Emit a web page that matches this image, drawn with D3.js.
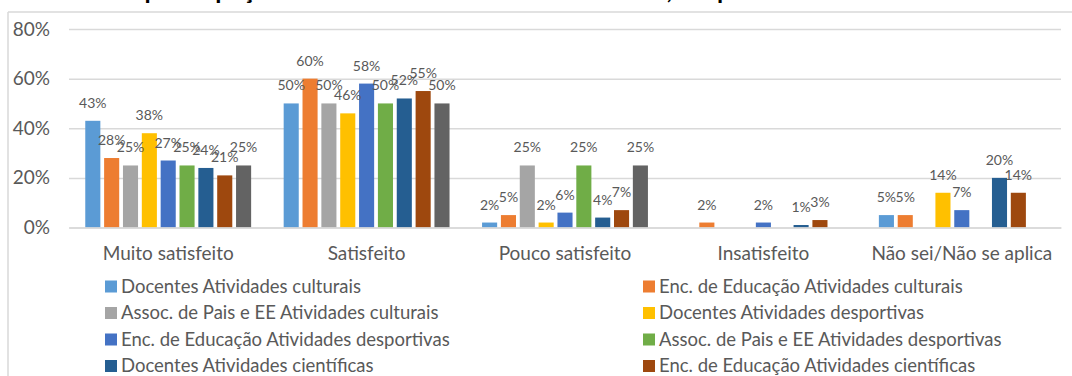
<!DOCTYPE html>
<html>
<head>
<meta charset="utf-8">
<script src="https://cdn.jsdelivr.net/npm/d3@7"></script>
<style>
  html, body { margin: 0; padding: 0; background: #fff; }
  svg { display: block; font-family: Lato, "Open Sans", sans-serif; }
</style>
</head>
<body>
<svg id="chart" width="1072" height="376"></svg>
<script>
// Response categories (x axis)
const categories = ["Muito satisfeito", "Satisfeito", "Pouco satisfeito", "Insatisfeito", "Não sei/Não se aplica"];

// Series names (respondent group + activity type)
const seriesNames = [
  "Docentes Atividades culturais",
  "Enc. de Educação Atividades culturais",
  "Assoc. de Pais e EE Atividades culturais",
  "Docentes Atividades desportivas",
  "Enc. de Educação Atividades desportivas",
  "Assoc. de Pais e EE Atividades desportivas",
  "Docentes Atividades científicas",
  "Enc. de Educação Atividades científicas",
  "Assoc. de Pais e EE Atividades científicas"
];

// Percentages per series, in category order (null = no answer, not drawn)
const docentesCulturais     = [43, 50, 2, null, 5];
const encCulturais          = [28, 60, 5, 2, 5];
const assocCulturais        = [25, 50, 25, null, null];
const docentesDesportivas   = [38, 46, 2, null, 14];
const encDesportivas        = [27, 58, 6, 2, 7];
const assocDesportivas      = [25, 50, 25, null, null];
const docentesCientificas   = [24, 52, 4, 1, 20];
const encCientificas        = [21, 55, 7, 3, 14];
const assocCientificas      = [25, 50, 25, null, null];

const seriesValues = [
  docentesCulturais, encCulturais, assocCulturais,
  docentesDesportivas, encDesportivas, assocDesportivas,
  docentesCientificas, encCientificas, assocCientificas
];

const seriesColors = ["#5B9BD5", "#ED7D31", "#A5A5A5", "#FFC000", "#4472C4", "#70AD47", "#255E91", "#9E480E", "#636363"];

// Y axis ticks
const yTicks = [0, 20, 40, 60, 80];

const chartTitle = "participação dos alunos em atividades culturais, desportivas e científicas";

const svg = d3.select("#chart");
const textColor = "#595959";
const gridColor = "#d9d9d9";

// Chart area frame (top and left edges visible)
svg.append("line").attr("x1", 8).attr("x2", 1072).attr("y1", 12).attr("y2", 12)
  .attr("stroke", gridColor).attr("stroke-width", 1.5);
svg.append("line").attr("x1", 8).attr("x2", 8).attr("y1", 12).attr("y2", 376)
  .attr("stroke", gridColor).attr("stroke-width", 1.5);

// Title (last line, sitting at the top edge)
svg.append("text")
  .attr("x", 545).attr("y", -1)
  .attr("text-anchor", "middle")
  .attr("font-weight", "bold")
  .attr("font-size", 25)
  .attr("fill", "#000")
  .text(chartTitle);

const plotLeft = 69, plotRight = 1061, plotTop = 29, plotBottom = 227.5;

const y = d3.scaleLinear().domain([0, 80]).range([plotBottom, plotTop]);

const x0 = d3.scaleBand().domain(categories).range([plotLeft, plotRight])
  .paddingInner(0.145).paddingOuter(0.0725);

const x1 = d3.scaleBand().domain(d3.range(seriesNames.length)).range([0, x0.bandwidth()])
  .paddingInner(0.2).paddingOuter(0.1);

// Gridlines and y tick labels
const yAxis = d3.axisLeft(y).tickValues(yTicks).tickSize(-(plotRight - plotLeft)).tickFormat(d => d + "%").tickPadding(19);
const gAxis = svg.append("g").attr("transform", `translate(${plotLeft},0)`).call(yAxis);
gAxis.select(".domain").remove();
gAxis.selectAll(".tick line").attr("stroke", gridColor).attr("stroke-width", 1.5);
gAxis.selectAll(".tick text")
  .attr("fill", textColor)
  .attr("font-size", 19)
  .attr("font-family", "Lato, sans-serif");

// Bars
const points = [];
seriesValues.forEach((vals, s) => {
  vals.forEach((v, c) => {
    if (v !== null) points.push({ s, c, v });
  });
});

const gBars = svg.append("g");
gBars.selectAll("rect").data(points).join("rect")
  .attr("x", d => x0(categories[d.c]) + x1(d.s))
  .attr("width", x1.bandwidth())
  .attr("y", d => y(d.v))
  .attr("height", d => y(0) - y(d.v))
  .attr("fill", d => seriesColors[d.s]);

// Data labels
gBars.selectAll("text").data(points).join("text")
  .attr("x", d => x0(categories[d.c]) + x1(d.s) + x1.bandwidth() / 2)
  .attr("y", d => y(d.v) - 13)
  .attr("text-anchor", "middle")
  .attr("font-size", 14)
  .attr("fill", textColor)
  .text(d => d.v + "%");

// Category labels
const xAxis = d3.axisBottom(x0).tickSize(0).tickPadding(0);
const gX = svg.append("g").attr("transform", `translate(0,${plotBottom})`).call(xAxis);
gX.select(".domain").attr("stroke", gridColor).attr("stroke-width", 1.5);
gX.selectAll(".tick text")
  .attr("y", 32)
  .attr("dy", null)
  .attr("fill", textColor)
  .attr("font-size", 19)
  .attr("font-family", "Lato, sans-serif");

// Legend: two columns, row by row
const legendCols = [105, 643];
const legendRow0 = 286.5, legendRowStep = 26.5;
const gLegend = svg.append("g");
const items = gLegend.selectAll("g").data(seriesNames).join("g")
  .attr("transform", (d, i) => `translate(${legendCols[i % 2]},${legendRow0 + Math.floor(i / 2) * legendRowStep})`);
items.append("rect").attr("x", 0).attr("y", -6).attr("width", 12).attr("height", 12)
  .attr("fill", (d, i) => seriesColors[i]);
items.append("text").attr("x", 16).attr("y", 0).attr("dy", "0.35em")
  .attr("font-size", 18.5).attr("fill", textColor).text(d => d);
</script>
</body>
</html>
